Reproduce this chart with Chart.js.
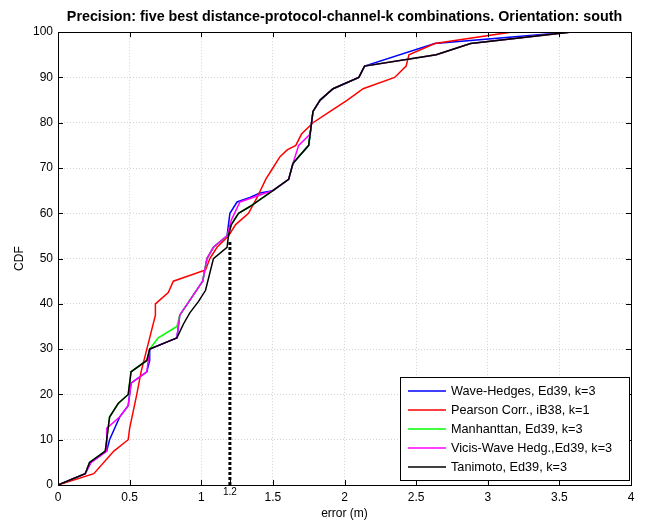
<!DOCTYPE html>
<html><head><meta charset="utf-8">
<script src="https://cdn.jsdelivr.net/npm/chart.js@4.4.1/dist/chart.umd.min.js"></script>
<style>html,body{margin:0;padding:0;background:#fff}#wrap{width:651px;height:521px}</style>
</head><body><div id="wrap"><canvas id="c" width="651" height="521"></canvas></div>
<script>
const seriesNames = ["Wave-Hedges, Ed39, k=3","Pearson Corr., iB38, k=1","Manhanttan, Ed39, k=3","Vicis-Wave Hedg.,Ed39, k=3","Tanimoto, Ed39, k=3"];
const seriesColors = ["#0000ff","#ff0000","#00ff00","#ff00ff","#000000"];

const blueX = [0,0.19,0.23,0.34,0.36,0.43,0.49,0.51,0.62,0.64,0.64,0.83,0.85,1.01,1.04,1.085,1.18,1.2,1.25,1.34,1.41,1.5,1.61,1.64,1.68,1.75,1.78,1.83,1.92,2.1,2.14,2.63,3.57];
const blueY = [0,2.5,5,7.5,10,15,17.5,22.5,25,27.5,30,32.5,37.5,45,50,52.5,55,60,62.5,63.5,64.5,65,67.5,71,72.5,75,82.5,85,87.5,90,92.5,97.5,100];

const redX = [0,0.25,0.39,0.49,0.50,0.55,0.58,0.64,0.68,0.68,0.77,0.805,1.03,1.06,1.11,1.19,1.24,1.33,1.39,1.45,1.5,1.55,1.6,1.66,1.7,1.78,1.9,2.02,2.13,2.35,2.43,2.45,2.63,3.16];
const redY = [0,2.5,7.5,10,12.5,20,25,32.5,37.5,40,42.5,45,47.5,50,52.5,55,57.5,60,63.5,67.5,70,72.5,74,75,77.5,80,82.5,85,87.5,90,92.5,95,97.5,100];

const greenX = [0,0.19,0.22,0.33,0.36,0.42,0.49,0.51,0.62,0.64,0.70,0.83,0.85,1.01,1.04,1.085,1.18,1.21,1.26,1.34,1.5,1.61,1.64,1.68,1.75,1.78,1.83,1.92,2.1,2.14,2.64,2.88,3.57];
const greenY = [0,2.5,5,7.5,15,18,20,25,27.5,30,32.5,35,37.5,45,50,52.5,55,57.5,60,61.5,65,67.5,71,72.5,75,82.5,85,87.5,90,92.5,95,97.5,100];

const magentaX = [0,0.19,0.23,0.34,0.34,0.43,0.49,0.51,0.62,0.64,0.83,0.85,1.01,1.04,1.085,1.18,1.21,1.27,1.45,1.5,1.61,1.64,1.68,1.76,1.78,1.83,1.92,2.1,2.14,2.64,2.88,3.57];
const magentaY = [0,2.5,5,7.5,12.5,15,17.5,22.5,25,30,32.5,37.5,45,50,52.5,55,58.5,62.5,64.5,65,67.5,71,75,77.5,82.5,85,87.5,90,92.5,95,97.5,100];

const blackX = [0,0.19,0.22,0.33,0.36,0.42,0.49,0.51,0.62,0.64,0.83,0.875,0.92,0.98,1.03,1.085,1.18,1.19,1.21,1.26,1.34,1.5,1.61,1.64,1.68,1.75,1.78,1.83,1.92,2.1,2.14,2.64,2.88,3.57];
const blackY = [0,2.5,5,7.5,15,18,20,25,27.5,30,32.5,35.5,38,40.5,43,50,52.5,55,57.5,60,61.5,65,67.5,71,72.5,75,82.5,85,87.5,90,92.5,95,97.5,100];

const markerX = [1.2,1.2];
const markerY = [0,54];

const xTicks = [0,0.5,1,1.5,2,2.5,3,3.5,4];
const yTicks = [0,10,20,30,40,50,60,70,80,90,100];
const extraXTick = 1.2;

const FONT = '"Liberation Sans", Arial, sans-serif';
const pts = (xs, ys) => xs.map((x,i)=>({x:x, y:ys[i]}));
const allX = [blueX, redX, greenX, magentaX, blackX];
const allY = [blueY, redY, greenY, magentaY, blackY];

const datasets = allX.map((xs,i)=>({
  label: seriesNames[i], data: pts(xs, allY[i]), borderColor: seriesColors[i],
  backgroundColor: seriesColors[i], borderWidth: 1.5, pointRadius: 0, tension: 0, fill: false,
  order: allX.length - 1 - i
}));
datasets.push({label: '_marker', data: pts(markerX, markerY), borderColor: '#000', borderWidth: 3,
  borderDash: [3,2], pointRadius: 0, fill: false, order: -1});

const frame = {
  id: 'frame',
  afterLayout(chart) {
    const tb = chart.titleBlock, a = chart.chartArea;
    if (tb) { tb.left = a.left; tb.right = a.right; tb.width = a.right - a.left; }
  },
  afterDatasetsDraw(chart) {
    const ctx = chart.ctx, a = chart.chartArea;
    const xs = chart.scales.x, ys = chart.scales.y;
    ctx.save();
    ctx.strokeStyle = '#000'; ctx.lineWidth = 1;
    ctx.strokeRect(Math.round(a.left)+0.5, Math.round(a.top)+0.5, Math.round(a.right-a.left), Math.round(a.bottom-a.top));
    ctx.beginPath();
    xTicks.concat([extraXTick]).forEach(v=>{
      const p = Math.round(xs.getPixelForValue(v))+0.5;
      ctx.moveTo(p, a.bottom); ctx.lineTo(p, a.bottom-5);
      if (v !== extraXTick) { ctx.moveTo(p, a.top); ctx.lineTo(p, a.top+5); }
    });
    yTicks.forEach(v=>{
      const p = Math.round(ys.getPixelForValue(v))+0.5;
      ctx.moveTo(a.left, p); ctx.lineTo(a.left+5, p);
      ctx.moveTo(a.right, p); ctx.lineTo(a.right-5, p);
    });
    ctx.stroke();
    const L = a.right - 231, T = a.bottom - 108, W = 229, H = 103;
    ctx.fillStyle = '#fff'; ctx.fillRect(L, T, W, H);
    ctx.strokeRect(L+0.5, T+0.5, W, H);
    ctx.font = '12.7px ' + FONT;
    ctx.textBaseline = 'middle'; ctx.textAlign = 'left';
    seriesNames.forEach((n,i)=>{
      const y = T + 14 + i*19;
      ctx.strokeStyle = seriesColors[i]; ctx.lineWidth = 1.5;
      ctx.beginPath(); ctx.moveTo(L+8, y); ctx.lineTo(L+46, y); ctx.stroke();
      ctx.fillStyle = '#000'; ctx.fillText(n, L+51, y);
    });
    ctx.font = '10px ' + FONT;
    ctx.textAlign = 'center'; ctx.textBaseline = 'top';
    ctx.fillText('1.2', xs.getPixelForValue(extraXTick), a.bottom + 2);
    ctx.restore();
  }
};

new Chart(document.getElementById('c'), {
  type: 'line',
  data: { datasets },
  options: {
    responsive: false, animation: false, devicePixelRatio: 1,
    layout: { padding: { left: 0, right: 20, top: 0, bottom: 0 } },
    plugins: {
      legend: { display: false },
      tooltip: { enabled: false },
      title: { display: true, text: 'Precision: five best distance-protocol-channel-k combinations. Orientation: south',
        color: '#000', font: { family: FONT, size: 14.3, weight: 'bold' },
        padding: { top: 8, bottom: 7 } }
    },
    scales: {
      x: { type: 'linear', min: 0, max: 4,
        afterBuildTicks(s){ s.ticks = xTicks.map(v=>({value:v})); },
        afterFit(s){ s.height = 36; },
        ticks: { color: '#000', font: { family: FONT, size: 12 }, padding: 5, maxRotation: 0,
          callback: v => String(v) },
        grid: { color: '#c8c8c8', lineWidth: 0.8, drawTicks: false },
        border: { display: false, dash: [1,2] },
        title: { display: true, text: 'error (m)', color: '#000', font: { family: FONT, size: 12 }, padding: { top: 0, bottom: 0 } }
      },
      y: { type: 'linear', min: 0, max: 100,
        afterBuildTicks(s){ s.ticks = yTicks.map(v=>({value:v})); },
        afterFit(s){ s.width = 58; },
        ticks: { color: '#000', font: { family: FONT, size: 12 }, padding: 5 },
        grid: { color: '#c8c8c8', lineWidth: 0.8, drawTicks: false },
        border: { display: false, dash: [1,2] },
        title: { display: true, text: 'CDF', color: '#000', font: { family: FONT, size: 12 }, padding: { top: 12, bottom: 0 } }
      }
    }
  },
  plugins: [frame]
});
</script></body></html>
